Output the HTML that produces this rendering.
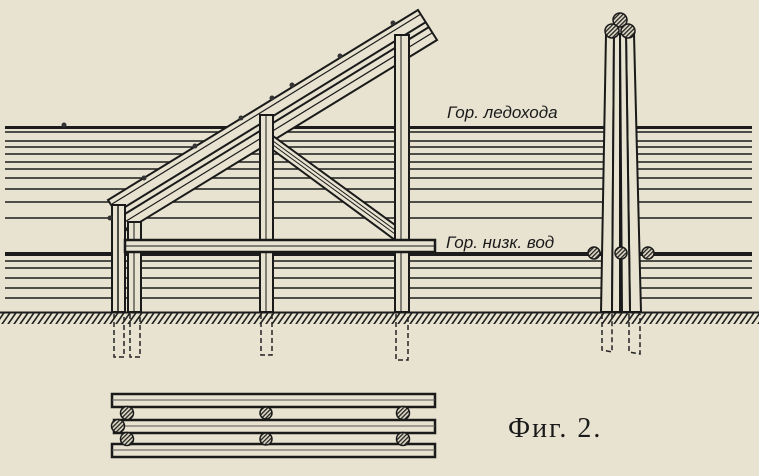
<!DOCTYPE html>
<html><head><meta charset="utf-8"><style>
html,body{margin:0;padding:0;background:#e7e3d0;}
svg{display:block}
.l{font-family:"Liberation Sans","DejaVu Sans",sans-serif;font-style:italic;font-size:17px;fill:#1a1a1a}
</style></head><body>
<svg width="759" height="476" viewBox="0 0 759 476" xmlns="http://www.w3.org/2000/svg">
<defs>
<pattern id="h" width="6" height="12" patternUnits="userSpaceOnUse" patternTransform="skewX(-35)">
<rect width="6" height="12" fill="#e7e3d0"/><rect width="2" height="12" fill="#222"/></pattern>
<pattern id="hc" width="3" height="3" patternUnits="userSpaceOnUse" patternTransform="rotate(45)">
<rect width="3" height="3" fill="#ddd8c4"/><rect width="1.3" height="3" fill="#222"/></pattern>
</defs>
<rect width="759" height="476" fill="#e7e3d0"/>
<!-- water lines -->
<g stroke="#1c1c1c">
<line x1="5" y1="127.5" x2="752" y2="127.5" stroke-width="3"/>
<line x1="5" y1="132" x2="752" y2="132" stroke-width="1.5"/>
<line x1="5" y1="141" x2="752" y2="141" stroke-width="1.5"/>
<line x1="5" y1="147" x2="752" y2="147" stroke-width="1.5"/>
<line x1="5" y1="154" x2="752" y2="154" stroke-width="1.5"/>
<line x1="5" y1="162" x2="752" y2="162" stroke-width="1.5"/>
<line x1="5" y1="169" x2="752" y2="169" stroke-width="1.5"/>
<line x1="5" y1="178" x2="752" y2="178" stroke-width="1.5"/>
<line x1="5" y1="189" x2="752" y2="189" stroke-width="1.5"/>
<line x1="5" y1="202" x2="752" y2="202" stroke-width="1.5"/>
<line x1="5" y1="218" x2="752" y2="218" stroke-width="1.5"/>
<line x1="5" y1="254" x2="752" y2="254" stroke-width="4"/>
<line x1="5" y1="261" x2="752" y2="261" stroke-width="1.5"/>
<line x1="5" y1="268" x2="752" y2="268" stroke-width="1.5"/>
<line x1="5" y1="278" x2="752" y2="278" stroke-width="1.5"/>
<line x1="5" y1="288" x2="752" y2="288" stroke-width="1.5"/>
<line x1="5" y1="298" x2="752" y2="298" stroke-width="1.5"/>
</g>
<!-- ground -->
<rect x="0" y="312" width="759" height="12" fill="url(#h)"/>
<line x1="0" y1="312.5" x2="759" y2="312.5" stroke="#1c1c1c" stroke-width="2"/>
<!-- dashed pile ends -->
<g stroke="#222" stroke-width="1.5" fill="none" stroke-dasharray="5,3">
<path d="M114 314 V357 H124 V314"/><path d="M130 314 V357 H140 V314"/>
<path d="M261 314 V355 H272 V314"/><path d="M396 314 V360 H408 V314"/>
<path d="M602 314 V350 L612 352 V314"/><path d="M629 314 V352 L640 354 V314"/>
</g>
<!-- diagonal beams -->
<g stroke="#1a1a1a" fill="#e7e3d0" stroke-width="2">
<polygon points="108,200 418,10 437,40 127,230"/>
<line x1="112" y1="204" x2="421" y2="14" stroke-width="1.2"/>
<line x1="117" y1="212" x2="426" y2="22" stroke-width="2"/>
<line x1="120" y1="217" x2="429" y2="27" stroke-width="2"/>
<line x1="123" y1="223" x2="432" y2="33" stroke-width="1.2"/>
</g>
<!-- posts -->
<g stroke="#1a1a1a" stroke-width="2" fill="#e7e3d0">
<rect x="112" y="205" width="13" height="107"/>
<line x1="118" y1="205" x2="118" y2="312" stroke-width="1.5"/>
<rect x="128" y="222" width="13" height="90"/>
<line x1="134" y1="222" x2="134" y2="312" stroke-width="1"/>
<rect x="260" y="115" width="13" height="197"/>
<line x1="266" y1="115" x2="266" y2="312" stroke-width="1"/>
<rect x="395" y="35" width="14" height="277"/>
<line x1="401" y1="35" x2="401" y2="312" stroke-width="1"/>
</g>
<!-- brace -->
<g stroke="#1a1a1a" stroke-width="2" fill="#e7e3d0">
<polygon points="273,136 395,225 395,240 273,150"/>
<line x1="273" y1="141" x2="395" y2="230" stroke-width="1"/>
<line x1="273" y1="145" x2="395" y2="234" stroke-width="1"/>
</g>
<!-- horizontal beam -->
<g stroke="#1a1a1a" fill="#e7e3d0">
<rect x="125" y="240" width="310" height="12" stroke-width="2.5"/>
<line x1="125" y1="246" x2="435" y2="246" stroke-width="1"/>
</g>
<!-- bolts on beams -->
<g fill="#333">
<circle cx="64" cy="125" r="2.5"/><circle cx="144" cy="178" r="2.5"/><circle cx="195" cy="146" r="2.5"/>
<circle cx="241" cy="118" r="2.5"/><circle cx="272" cy="98" r="2.5"/><circle cx="292" cy="85" r="2.5"/>
<circle cx="340" cy="56" r="2.5"/><circle cx="393" cy="23" r="2.5"/><circle cx="110" cy="218" r="2.5"/>
</g>
<!-- tripod -->
<g stroke="#1a1a1a" stroke-width="2" fill="#e7e3d0">
<polygon points="606,34 614,34 612,312 601,312"/>
<polygon points="626,34 634,34 641,312 630,312"/>
<polygon points="614,34 620,34 620,312 612,312"/>
<polygon points="620,34 626,34 630,312 622,312"/>
</g>
<g stroke="#1a1a1a" stroke-width="1.5" fill="url(#hc)">
<circle cx="620" cy="20" r="7"/><circle cx="612" cy="31" r="7"/><circle cx="628" cy="31" r="7"/>
<circle cx="594" cy="253" r="6"/><circle cx="621" cy="253" r="6"/><circle cx="648" cy="253" r="6"/>
</g>
<!-- labels -->
<text x="447" y="118" class="l">Гор. ледохода</text>
<text x="446" y="248" class="l">Гор. низк. вод</text>
<!-- plan view -->
<g stroke="#1a1a1a" fill="#e7e3d0" stroke-width="2.5">
<rect x="112" y="394" width="323" height="13"/>
<rect x="114" y="420" width="321" height="13"/>
<rect x="112" y="444" width="323" height="13"/>
</g>
<g stroke="#555" stroke-width="1"><line x1="112" y1="400" x2="435" y2="400"/><line x1="114" y1="426" x2="435" y2="426"/><line x1="112" y1="450" x2="435" y2="450"/></g>
<g stroke="#1a1a1a" stroke-width="1.5" fill="url(#hc)">
<circle cx="127" cy="413" r="6.5"/><circle cx="118" cy="426" r="6.5"/><circle cx="127" cy="439" r="6.5"/>
<circle cx="266" cy="413" r="6"/><circle cx="266" cy="439" r="6"/>
<circle cx="403" cy="413" r="6.5"/><circle cx="403" cy="439" r="6.5"/>
</g>
<text x="508" y="437" font-family="Liberation Serif,serif" font-size="28" letter-spacing="2" fill="#1a1a1a">Фиг. 2.</text>
</svg>
</body></html>
